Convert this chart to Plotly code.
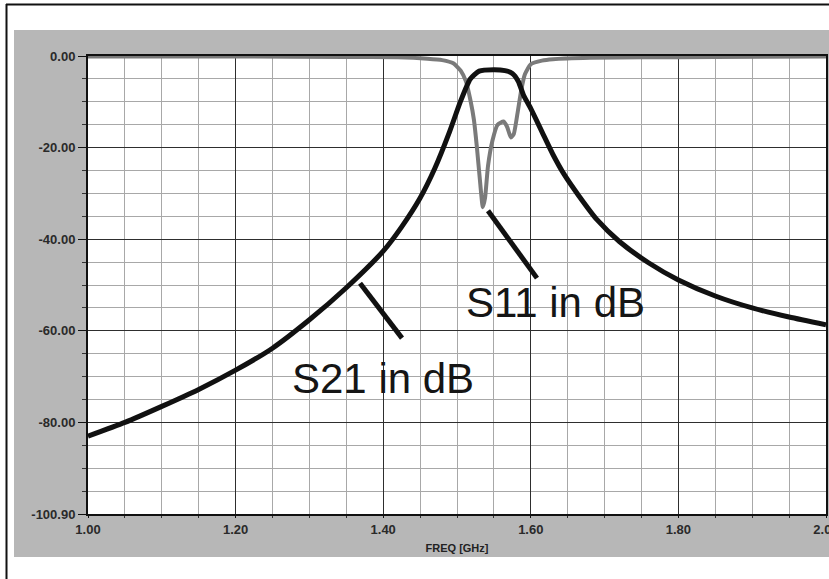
import plotly.graph_objects as go

# ---------------- data ----------------
freq_s21 = [1.00, 1.05, 1.10, 1.15, 1.20, 1.25, 1.30, 1.35, 1.40, 1.425, 1.450,
            1.470, 1.490, 1.505, 1.518, 1.530, 1.550, 1.565, 1.575, 1.583, 1.590,
            1.600, 1.615, 1.630, 1.645, 1.665, 1.690, 1.720, 1.760, 1.800, 1.850,
            1.900, 1.950, 2.000]
s21_db = [-83.0, -80.0, -76.5, -72.8, -68.6, -63.8, -57.6, -50.6, -42.6, -37.3, -31.0,
          -24.5, -16.5, -9.8, -5.0, -3.3, -3.0, -3.2, -3.8, -5.5, -8.5,
          -11.5, -16.5, -21.5, -25.8, -30.5, -35.8, -40.5, -45.2, -48.9, -52.4,
          -55.0, -57.0, -58.7]

freq_s11 = [1.00, 1.20, 1.35, 1.42, 1.46, 1.480, 1.495, 1.505, 1.512, 1.518, 1.523,
            1.527, 1.531, 1.535, 1.538, 1.542, 1.548, 1.555, 1.563, 1.568, 1.573,
            1.577, 1.582, 1.587, 1.592, 1.600, 1.615, 1.630, 1.680, 1.750, 1.850,
            2.000]
s11_db = [-0.1, -0.1, -0.2, -0.3, -0.6, -0.9, -1.6, -3.2, -5.5, -9.5, -14.0,
          -20.0, -27.0, -33.0, -31.0, -24.0, -18.5, -15.0, -14.3, -15.5, -17.8,
          -17.0, -12.5, -7.5, -4.0, -1.8, -1.0, -0.7, -0.4, -0.3, -0.2,
          -0.1]

x_tick_vals = [1.0, 1.2, 1.4, 1.6, 1.8, 2.0]
x_tick_text = ["1.00", "1.20", "1.40", "1.60", "1.80", "2.00"]
y_tick_vals = [0, -20, -40, -60, -80, -100]
y_tick_text = ["0.00", "-20.00", "-40.00", "-60.00", "-80.00", "-100.90"]

label_s21 = "S21 in dB"
label_s11 = "S11 in dB"
x_title = "FREQ [GHz]"

# ---------------- layout geometry ----------------
W, H = 829, 579
ML, MR, MT, MB = 88, 3, 56, 65
PW, PH = W - ML - MR, H - MT - MB


def px_x(x):
    return (x - ML) / PW


def px_y(y):
    return (MT + PH - y) / PH


x_minor = [round(1 + 0.05 * i, 2) for i in range(21) if i % 4 != 0]
y_minor = [-5 * i for i in range(21) if i % 4 != 0]

fig = go.Figure()
fig.add_trace(go.Scatter(x=freq_s11, y=s11_db, mode="lines", name=label_s11,
                         line=dict(color="#7a7a7a", width=4, shape="spline", smoothing=0.5),
                         showlegend=False))
fig.add_trace(go.Scatter(x=freq_s21, y=s21_db, mode="lines", name=label_s21,
                         line=dict(color="#111111", width=5, shape="spline", smoothing=0.6),
                         showlegend=False))

tick_font = dict(family="Liberation Sans, Arial, sans-serif", size=13, color="#2a2a2a", weight="bold")

fig.update_xaxes(range=[1.0, 2.0], tickmode="array", tickvals=x_tick_vals, ticktext=x_tick_text,
                 showgrid=True, gridcolor="#2e2e2e", gridwidth=1,
                 showline=True, linecolor="#111111", linewidth=2, mirror=True,
                 ticks="outside", ticklen=2, tickcolor="#111111",
                 tickfont=tick_font, zeroline=False, ticklabeloverflow="allow",
                 minor=dict(tickmode="array", tickvals=x_minor, showgrid=True,
                            gridcolor="#a8a8a8", gridwidth=1, ticks="outside",
                            ticklen=2, tickcolor="#333333"),
                 title=dict(text=x_title, standoff=9,
                            font=dict(family="Liberation Sans, Arial, sans-serif", size=11,
                                      color="#222222", weight="bold")))
fig.update_yaxes(range=[-100, 0], tickmode="array", tickvals=y_tick_vals, ticktext=y_tick_text,
                 showgrid=True, gridcolor="#2e2e2e", gridwidth=1,
                 showline=True, linecolor="#111111", linewidth=2, mirror=True,
                 ticks="outside", ticklen=8, tickcolor="#111111",
                 tickfont=tick_font, zeroline=False, ticklabeloverflow="allow",
                 minor=dict(tickmode="array", tickvals=y_minor, showgrid=True,
                            gridcolor="#a8a8a8", gridwidth=1, ticks="outside",
                            ticklen=4, tickcolor="#333333"))

shapes = [
    # grey panel
    dict(type="rect", xref="paper", yref="paper", x0=px_x(14), x1=px_x(840),
         y0=px_y(557), y1=px_y(30), fillcolor="#b7b7b7", line=dict(width=0), layer="below"),
    # white plotting area
    dict(type="rect", xref="paper", yref="paper", x0=0, x1=1, y0=0, y1=1,
         fillcolor="white", line=dict(width=0), layer="below"),
    # outer frame lines
    dict(type="line", xref="paper", yref="paper", x0=px_x(6), x1=px_x(840),
         y0=px_y(4.5), y1=px_y(4.5), line=dict(color="#111111", width=2)),
    dict(type="line", xref="paper", yref="paper", x0=px_x(6.5), x1=px_x(6.5),
         y0=px_y(4), y1=px_y(590), line=dict(color="#111111", width=2)),
    # pointer lines
    dict(type="line", xref="x", yref="y", x0=1.3686, y0=-49.6, x1=1.4255, y1=-61.6,
         line=dict(color="#111111", width=5)),
    dict(type="line", xref="x", yref="y", x0=1.5420, y0=-33.8, x1=1.6084, y1=-48.5,
         line=dict(color="#111111", width=5)),
]

label_font = dict(family="Liberation Sans, Arial, sans-serif", size=42, color="#151515")
annotations = [
    dict(x=1.3997, y=-70.5, xref="x", yref="y", text=label_s21, showarrow=False,
         font=label_font, xanchor="center", yanchor="middle"),
    dict(x=1.6328, y=-53.9, xref="x", yref="y", text=label_s11, showarrow=False,
         font=label_font, xanchor="center", yanchor="middle"),
]

fig.update_layout(width=W, height=H, margin=dict(l=ML, r=MR, t=MT, b=MB, autoexpand=False),
                  paper_bgcolor="white", plot_bgcolor="white",
                  shapes=shapes, annotations=annotations, showlegend=False)

fig.write_html("out.html", config={"displayModeBar": False},
               post_script="document.body.style.margin='0px';document.body.style.overflow='hidden';")
